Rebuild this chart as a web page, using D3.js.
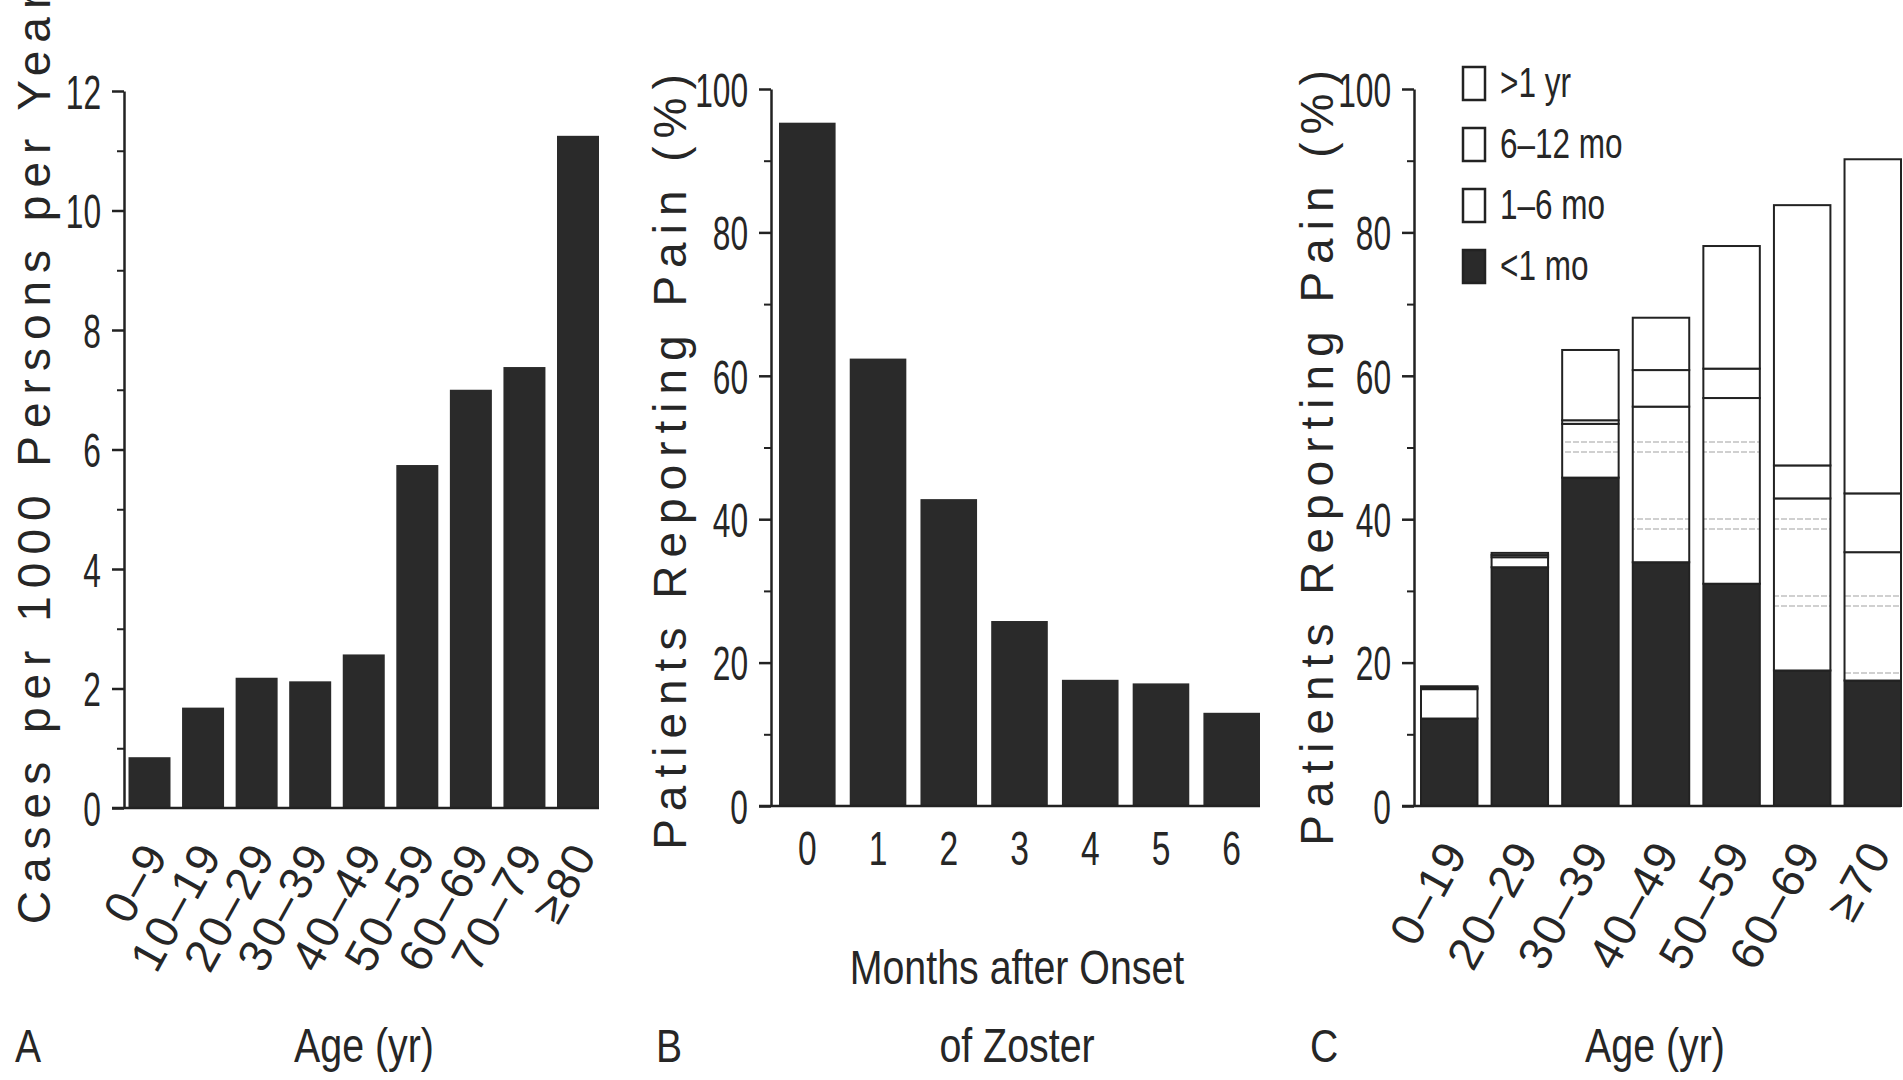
<!DOCTYPE html>
<html>
<head>
<meta charset="utf-8">
<script src="https://cdn.jsdelivr.net/npm/d3@7"></script>
<style>
  html, body { margin: 0; padding: 0; background: #fff; }
  svg text { font-family: "Liberation Sans", Arial, Helvetica, sans-serif; fill: #262626; }
</style>
</head>
<body>
<svg id="chart" width="1903" height="1080"></svg>
<script>
// A: incidence by age
const agesA = ['0–9', '10–19', '20–29', '30–39', '40–49', '50–59', '60–69', '70–79', '≥80'];
const casesA = [0.85, 1.68, 2.18, 2.12, 2.57, 5.74, 7.0, 7.38, 11.25];
const ticksA = [0, 2, 4, 6, 8, 10, 12];
const minorA = [1, 3, 5, 7, 9, 11];

// B: pain by month after onset
const monthsB = ['0', '1', '2', '3', '4', '5', '6'];
const painB = [95.3, 62.4, 42.8, 25.8, 17.6, 17.1, 13.0];
const ticksPct = [0, 20, 40, 60, 80, 100];
const minorPct = [10, 30, 50, 70, 90];

// C: pain duration by age (stacked)
const agesC = ['0–19', '20–29', '30–39', '40–49', '50–59', '60–69', '≥70'];
const lt1mo = [12.2, 33.3, 45.8, 34.0, 31.0, 18.9, 17.5];
const mo1to6 = [4.1, 1.4, 7.5, 21.7, 25.9, 24.0, 17.9];
const mo6to12 = [0.2, 0.3, 0.5, 5.1, 4.1, 4.6, 8.2];
const gt1yr = [0.2, 0.3, 9.8, 7.3, 17.1, 36.3, 46.6];
const legendLabels = ['>1 yr', '6–12 mo', '1–6 mo', '<1 mo'];

const BAR = '#2a2a2a', INK = '#222';
const svg = d3.select('#chart');
svg.append('rect').attr('width', 1903).attr('height', 1080).attr('fill', '#fff');

// faint dotted screen used for the 1-6 mo segments
const defs = svg.append('defs');
const pat = defs.append('pattern').attr('id', 'hatch').attr('patternUnits', 'userSpaceOnUse')
  .attr('x', 0).attr('y', 55).attr('width', 8).attr('height', 77);
pat.append('rect').attr('width', 8).attr('height', 77).attr('fill', '#fff');
[2, 12].forEach(v => pat.append('line').attr('x1', 0).attr('x2', 8).attr('y1', v).attr('y2', v)
  .attr('stroke', '#d0d0d0').attr('stroke-width', 2).attr('stroke-dasharray', '3 2'));

function yAxis(x0, y, major, minor) {
  const g = svg.append('g').attr('transform', `translate(${x0},0)`)
    .call(d3.axisLeft(y).tickValues(major).tickSize(12).tickSizeOuter(0).tickFormat(d3.format('d')));
  g.select('.domain').attr('stroke', INK).attr('stroke-width', 2.5);
  g.selectAll('.tick line').attr('stroke', INK).attr('stroke-width', 2.5);
  g.selectAll('.tick text').attr('x', null).attr('dy', '0.36em').attr('font-size', 48)
    .attr('transform', 'translate(-23,0) scale(0.66,1)');
  const gm = svg.append('g').attr('transform', `translate(${x0},0)`)
    .call(d3.axisLeft(y).tickValues(minor).tickSize(7).tickFormat(''));
  gm.select('.domain').remove();
  gm.selectAll('.tick line').attr('stroke', INK).attr('stroke-width', 2);
}

function baseline(x0, x, y) {
  svg.append('line').attr('x1', x0 - 12).attr('x2', x.range()[1]).attr('y1', y(0)).attr('y2', y(0))
    .attr('stroke', INK).attr('stroke-width', 2.5);
}

function slantLabels(x, y) {
  const g = svg.append('g').attr('transform', `translate(0,${y(0)})`).call(d3.axisBottom(x).tickSize(0));
  g.select('.domain').remove();
  g.selectAll('text').attr('y', null).attr('dy', null).attr('text-anchor', 'end')
    .attr('font-size', 46).attr('letter-spacing', 2)
    .attr('transform', 'translate(20,46) rotate(-61)');
}

function yTitle(x, yc, label) {
  svg.append('text').attr('transform', `translate(${x},${yc}) rotate(-90)`)
    .attr('text-anchor', 'middle').attr('font-size', 46).attr('letter-spacing', 8).text(label);
}

function condText(x, y, label, size, sx, anchor) {
  svg.append('text').attr('transform', `translate(${x},${y}) scale(${sx},1)`)
    .attr('text-anchor', anchor).attr('font-size', size).text(label);
}

// ---- Panel A
const axA = 124;
const yA = d3.scaleLinear().domain([0, 12]).range([808, 91]);
const xA = d3.scaleBand().domain(agesA).range([128.5, 599]).paddingInner(0.216).paddingOuter(0);
svg.append('g').selectAll('rect').data(casesA).join('rect')
  .attr('x', (d, i) => xA(agesA[i])).attr('y', d => yA(d))
  .attr('width', xA.bandwidth()).attr('height', d => yA(0) - yA(d)).attr('fill', BAR);
yAxis(axA, yA, ticksA, minorA);
baseline(axA, xA, yA);
slantLabels(xA, yA);
yTitle(50, 455, 'Cases per 1000 Persons per Year');
condText(364, 1062, 'Age (yr)', 48, 0.82, 'middle');
condText(15, 1062, 'A', 46, 0.85, 'start');

// ---- Panel B
const axB = 771;
const yB = d3.scaleLinear().domain([0, 100]).range([806, 89]);
const xB = d3.scaleBand().domain(monthsB).range([779, 1260]).paddingInner(0.2).paddingOuter(0);
svg.append('g').selectAll('rect').data(painB).join('rect')
  .attr('x', (d, i) => xB(monthsB[i])).attr('y', d => yB(d))
  .attr('width', xB.bandwidth()).attr('height', d => yB(0) - yB(d)).attr('fill', BAR);
yAxis(axB, yB, ticksPct, minorPct);
baseline(axB, xB, yB);
const gxB = svg.append('g').attr('transform', `translate(0,${yB(0)})`).call(d3.axisBottom(xB).tickSize(0));
gxB.select('.domain').remove();
gxB.selectAll('text').attr('y', null).attr('dy', null).attr('font-size', 48)
  .attr('transform', 'translate(0,59) scale(0.7,1)');
yTitle(686, 458, 'Patients Reporting Pain (%)');
condText(1017, 984, 'Months after Onset', 48, 0.82, 'middle');
condText(1017, 1062, 'of Zoster', 48, 0.82, 'middle');
condText(656, 1062, 'B', 46, 0.85, 'start');

// ---- Panel C
const axC = 1414;
const yC = d3.scaleLinear().domain([0, 100]).range([806, 89]);
const xC = d3.scaleBand().domain(agesC).range([1421, 1901]).paddingInner(0.2).paddingOuter(0);
const rowsC = agesC.map((a, i) => ({ age: a, lt1: lt1mo[i], m1: mo1to6[i], m6: mo6to12[i], gt1: gt1yr[i] }));
const keysC = ['lt1', 'm1', 'm6', 'gt1'];
const fillC = { lt1: BAR, m1: 'url(#hatch)', m6: '#fff', gt1: '#fff' };
const stacked = d3.stack().keys(keysC)(rowsC);
svg.append('g').selectAll('g').data(stacked).join('g')
  .attr('fill', s => fillC[s.key])
  .selectAll('rect').data(s => s).join('rect')
  .attr('x', d => xC(d.data.age)).attr('y', d => yC(d[1]))
  .attr('width', xC.bandwidth()).attr('height', d => yC(d[0]) - yC(d[1]))
  .attr('stroke', INK).attr('stroke-width', 2);
yAxis(axC, yC, ticksPct, minorPct);
baseline(axC, xC, yC);
slantLabels(xC, yC);
yTitle(1333, 454, 'Patients Reporting Pain (%)');
condText(1655, 1062, 'Age (yr)', 48, 0.82, 'middle');
condText(1310, 1062, 'C', 46, 0.85, 'start');

// legend
const legendFill = ['#fff', '#fff', 'url(#hatch)', BAR];
const lg = svg.append('g').selectAll('g').data(legendLabels).join('g')
  .attr('transform', (d, i) => `translate(1463,${67 + i * 61})`);
lg.append('rect').attr('width', 22).attr('height', 33)
  .attr('fill', (d, i) => legendFill[i]).attr('stroke', INK).attr('stroke-width', 2.5);
lg.append('text').attr('transform', 'translate(37,30) scale(0.75,1)').attr('font-size', 42).text(d => d);
</script>
</body>
</html>
